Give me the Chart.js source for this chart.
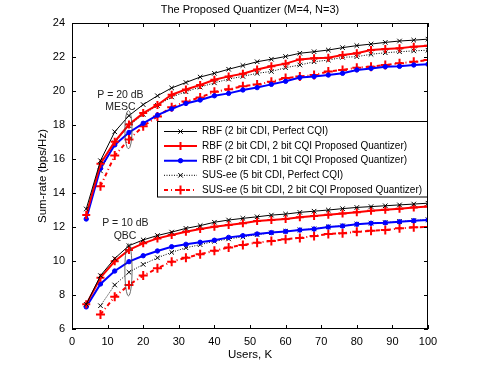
<!DOCTYPE html>
<html>
<head>
<meta charset="utf-8">
<script src="https://cdn.jsdelivr.net/npm/chart.js@4.4.0/dist/chart.umd.min.js"></script>
<style>
  html, body { margin: 0; padding: 0; background: #fff; }
  #wrap { width: 480px; height: 365px; }
</style>
</head>
<body>
<div id="wrap"><canvas id="sumRateChart" width="480" height="365"></canvas></div>
<script>
// Users K on the x axis
const users = [4, 8, 12, 16, 20, 24, 28, 32, 36, 40, 44, 48, 52, 56, 60, 64, 68, 72, 76, 80, 84, 88, 92, 96, 100];
const xTicks = [0, 10, 20, 30, 40, 50, 60, 70, 80, 90, 100];
const yTicks = [6, 8, 10, 12, 14, 16, 18, 20, 22, 24];

// P = 20 dB (MESC group)
const rbfPerfect20 = [13.06, 15.9, 17.6, 18.55, 19.2, 19.72, 20.18, 20.5, 20.82, 21.04, 21.28, 21.5, 21.72, 21.87, 22.03, 22.22, 22.31, 22.41, 22.55, 22.67, 22.76, 22.86, 22.94, 22.99, 23.05];
const rbf2bit20 = [12.7, 15.72, 17.02, 18.03, 18.7, 19.18, 19.78, 20.09, 20.35, 20.66, 20.86, 21.02, 21.26, 21.45, 21.61, 21.86, 21.92, 21.96, 22.12, 22.22, 22.41, 22.47, 22.51, 22.61, 22.66];
const rbf1bit20 = [12.47, 15.45, 16.83, 17.56, 18.1, 18.58, 18.95, 19.27, 19.47, 19.72, 19.86, 20.06, 20.2, 20.39, 20.57, 20.79, 20.85, 20.94, 21.04, 21.24, 21.33, 21.43, 21.45, 21.53, 21.57];
const susPerfect20 = [null, 15.3, 16.95, 17.96, 18.62, 19.15, 19.65, 19.96, 20.23, 20.48, 20.7, 20.86, 21.04, 21.15, 21.37, 21.53, 21.72, 21.82, 21.98, 22.02, 22.16, 22.25, 22.31, 22.36, 22.4];
const sus2bit20 = [null, 14.4, 16.2, 17.15, 17.93, 18.5, 19.05, 19.38, 19.62, 19.95, 20.1, 20.28, 20.38, 20.55, 20.76, 20.85, 20.94, 21.14, 21.24, 21.37, 21.43, 21.53, 21.63, 21.72, 21.82];

// P = 10 dB (QBC group)
const rbfPerfect10 = [7.45, 9.14, 10.15, 10.9, 11.24, 11.5, 11.7, 11.92, 12.08, 12.28, 12.41, 12.51, 12.6, 12.7, 12.76, 12.86, 12.93, 13.0, 13.08, 13.15, 13.2, 13.25, 13.3, 13.35, 13.4];
const rbf2bit10 = [7.45, 9.02, 9.98, 10.65, 11.04, 11.33, 11.53, 11.72, 11.88, 12.02, 12.12, 12.22, 12.35, 12.41, 12.47, 12.57, 12.65, 12.72, 12.8, 12.87, 12.95, 13.02, 13.08, 13.14, 13.2];
const rbf1bit10 = [7.3, 8.65, 9.41, 9.96, 10.31, 10.59, 10.84, 10.98, 11.1, 11.22, 11.39, 11.49, 11.59, 11.67, 11.74, 11.82, 11.88, 12.0, 12.06, 12.16, 12.22, 12.25, 12.31, 12.37, 12.41];
const susPerfect10 = [null, 7.37, 8.59, 9.34, 9.8, 10.19, 10.51, 10.78, 10.96, 11.16, 11.3, 11.42, 11.55, 11.66, 11.75, 11.83, 11.89, 12.01, 12.07, 12.17, 12.23, 12.26, 12.32, 12.38, 12.43];
const sus2bit10 = [null, 6.86, 7.9, 8.59, 9.14, 9.57, 9.96, 10.19, 10.4, 10.6, 10.8, 10.94, 11.08, 11.18, 11.28, 11.36, 11.47, 11.59, 11.63, 11.72, 11.78, 11.82, 11.92, 11.98, 12.0];

const seriesLabels = [
  'RBF (2 bit CDI, Perfect CQI)',
  'RBF (2 bit CDI, 2 bit CQI Proposed Quantizer)',
  'RBF (2 bit CDI, 1 bit CQI Proposed Quantizer)',
  'SUS-ee (5 bit CDI, Perfect CQI)',
  'SUS-ee (5 bit CDI, 2 bit CQI Proposed Quantizer)'
];

const FONT = 'Liberation Sans, Arial, Helvetica, sans-serif';

const styles = [
  { borderColor: '#000000', borderWidth: 1, borderDash: [], pointStyle: 'crossRot', pointRadius: 3.2, pointBorderWidth: 1 },
  { borderColor: '#ff0000', borderWidth: 2, borderDash: [], pointStyle: 'cross', pointRadius: 4, pointBorderWidth: 2 },
  { borderColor: '#0000ff', borderWidth: 2, borderDash: [], pointStyle: 'circle', pointRadius: 2.2, pointBorderWidth: 1 },
  { borderColor: '#000000', borderWidth: 1, borderDash: [1, 1.5], pointStyle: 'crossRot', pointRadius: 3.2, pointBorderWidth: 1 },
  { borderColor: '#ff0000', borderWidth: 2, borderDash: [4, 3, 1, 3], pointStyle: 'cross', pointRadius: 4.5, pointBorderWidth: 2 }
];

function toPoints(values) {
  return users.map((k, i) => ({ x: k, y: values[i] }));
}

function makeDataset(values, idx) {
  const s = styles[idx];
  return {
    label: seriesLabels[idx],
    data: toPoints(values),
    borderColor: s.borderColor,
    backgroundColor: s.borderColor,
    pointBackgroundColor: s.borderColor,
    pointBorderColor: s.borderColor,
    borderWidth: s.borderWidth,
    borderDash: s.borderDash,
    pointStyle: s.pointStyle,
    pointRadius: s.pointRadius,
    pointBorderWidth: s.pointBorderWidth,
    tension: 0,
    spanGaps: false,
    fill: false
  };
}

const datasets = [
  makeDataset(rbfPerfect20, 0),
  makeDataset(rbf2bit20, 1),
  makeDataset(rbf1bit20, 2),
  makeDataset(susPerfect20, 3),
  makeDataset(sus2bit20, 4),
  makeDataset(rbfPerfect10, 0),
  makeDataset(rbf2bit10, 1),
  makeDataset(rbf1bit10, 2),
  makeDataset(susPerfect10, 3),
  makeDataset(sus2bit10, 4)
];

function drawMarker(ctx, style, x, y, r) {
  ctx.beginPath();
  if (style === 'circle') {
    ctx.arc(x, y, r, 0, Math.PI * 2);
    ctx.fill();
    ctx.stroke();
    return;
  }
  if (style === 'cross') {
    ctx.moveTo(x - r, y); ctx.lineTo(x + r, y);
    ctx.moveTo(x, y - r); ctx.lineTo(x, y + r);
  } else {
    const d = r * Math.SQRT1_2;
    ctx.moveTo(x - d, y - d); ctx.lineTo(x + d, y + d);
    ctx.moveTo(x - d, y + d); ctx.lineTo(x + d, y - d);
  }
  ctx.stroke();
}

// box, inward ticks, title, axis labels, notes and legend (MATLAB look)
const matlabFrame = {
  id: 'matlabFrame',
  afterDraw(chart) {
    const { ctx, chartArea: a, scales: { x, y } } = chart;
    ctx.save();
    ctx.strokeStyle = '#000';
    ctx.lineWidth = 1;
    ctx.setLineDash([]);
    ctx.strokeRect(a.left + 0.5, a.top + 0.5, a.right - a.left - 1, a.bottom - a.top - 1);

    const tl = 4;
    ctx.beginPath();
    xTicks.forEach((t) => {
      const px = Math.round(x.getPixelForValue(t)) + 0.5;
      ctx.moveTo(px, a.bottom); ctx.lineTo(px, a.bottom - tl);
      ctx.moveTo(px, a.top); ctx.lineTo(px, a.top + tl);
    });
    yTicks.forEach((t) => {
      const py = Math.round(y.getPixelForValue(t)) + 0.5;
      ctx.moveTo(a.left, py); ctx.lineTo(a.left + tl, py);
      ctx.moveTo(a.right, py); ctx.lineTo(a.right - tl, py);
    });
    ctx.stroke();

    // title and axis titles
    ctx.fillStyle = '#000';
    ctx.textAlign = 'center';
    ctx.textBaseline = 'middle';
    ctx.font = '11px ' + FONT;
    ctx.fillText('The Proposed Quantizer (M=4, N=3)', (a.left + a.right) / 2, 10);
    ctx.font = '11.5px ' + FONT;
    ctx.fillText('Users, K', (a.left + a.right) / 2, 355);
    ctx.save();
    ctx.translate(43, (a.top + a.bottom) / 2);
    ctx.rotate(-Math.PI / 2);
    ctx.fillText('Sum-rate (bps/Hz)', 0, 0);
    ctx.restore();

    // notes with ellipses around K = 16
    ctx.font = '10.5px ' + FONT;
    ctx.fillStyle = '#222';
    ctx.fillText('P = 20 dB', x.getPixelForValue(13.6), y.getPixelForValue(19.76));
    ctx.fillText('MESC', x.getPixelForValue(13.6), y.getPixelForValue(19.05));
    ctx.fillText('P = 10 dB', x.getPixelForValue(15), y.getPixelForValue(12.22));
    ctx.fillText('QBC', x.getPixelForValue(14.9), y.getPixelForValue(11.49));
    ctx.strokeStyle = '#444';
    ctx.lineWidth = 0.8;
    [[16.6, 18.85], [7.95, 11.0]].forEach(([lo, hi]) => {
      const cx = x.getPixelForValue(16) - 0.5;
      const top = y.getPixelForValue(hi);
      const bot = y.getPixelForValue(lo);
      ctx.beginPath();
      ctx.ellipse(cx, (top + bot) / 2, 3.6, (bot - top) / 2, 0, 0, Math.PI * 2);
      ctx.stroke();
    });

    // legend box
    const lx = 157.5, ly = 121.5, lw = a.right - 0.5 - lx, lh = 75.5;
    ctx.fillStyle = '#fff';
    ctx.fillRect(lx, ly, lw, lh);
    ctx.strokeStyle = '#000';
    ctx.lineWidth = 1;
    ctx.strokeRect(lx, ly, lw, lh);
    ctx.font = '10px ' + FONT;
    ctx.textAlign = 'left';
    for (let i = 0; i < 5; i++) {
      const ds = chart.data.datasets[i];
      const ry = ly + 10 + i * 14.6;
      ctx.strokeStyle = ds.borderColor;
      ctx.fillStyle = ds.borderColor;
      ctx.lineWidth = ds.borderWidth;
      ctx.setLineDash(ds.borderDash);
      ctx.beginPath();
      ctx.moveTo(164, ry); ctx.lineTo(197, ry);
      ctx.stroke();
      ctx.setLineDash([]);
      ctx.lineWidth = ds.pointBorderWidth;
      drawMarker(ctx, ds.pointStyle, 180.5, ry, ds.pointRadius);
      ctx.fillStyle = '#000';
      ctx.fillText(ds.label, 202, ry);
    }
    ctx.restore();
  }
};

new Chart(document.getElementById('sumRateChart'), {
  type: 'line',
  data: { datasets },
  options: {
    responsive: false,
    animation: false,
    devicePixelRatio: 1,
    layout: { padding: { left: 0, right: 52, top: 23, bottom: 0 } },
    plugins: {
      legend: { display: false },
      title: { display: false },
      tooltip: { enabled: false }
    },
    scales: {
      x: {
        type: 'linear',
        min: 0,
        max: 100,
        afterFit: (scale) => { scale.height = 36; },
        afterBuildTicks: (scale) => { scale.ticks = xTicks.map((v) => ({ value: v })); },
        grid: { display: false, drawTicks: false },
        border: { display: false },
        ticks: { padding: 6, color: '#000', font: { family: FONT, size: 11 }, maxRotation: 0 }
      },
      y: {
        type: 'linear',
        min: 6,
        max: 24,
        afterFit: (scale) => { scale.width = 72; },
        afterBuildTicks: (scale) => { scale.ticks = yTicks.map((v) => ({ value: v })); },
        grid: { display: false, drawTicks: false },
        border: { display: false },
        ticks: { padding: 7, color: '#000', font: { family: FONT, size: 11 } }
      }
    }
  },
  plugins: [matlabFrame]
});
</script>
</body>
</html>
